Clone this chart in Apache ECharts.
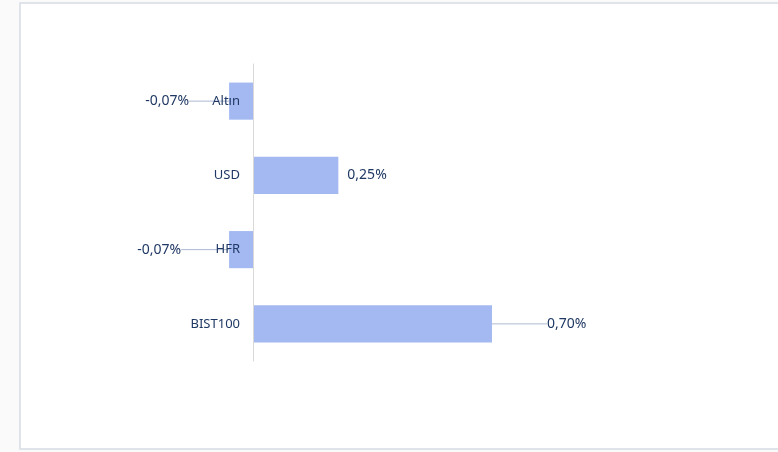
<!DOCTYPE html>
<html>
<head>
<meta charset="utf-8">
<script src="https://cdn.jsdelivr.net/npm/echarts@6/dist/echarts.min.js"></script>
<style>
  html, body { margin: 0; padding: 0; background: #fafafa; }
  #chart { width: 778px; height: 452px; }
</style>
</head>
<body>
<div id="chart"></div>
<script>
// Daily returns, top to bottom as drawn
const categories = ['Altın', 'USD', 'HFR', 'BIST100'];
const returns = [-0.07, 0.25, -0.07, 0.70];

const fmt = (v) => v.toFixed(2).replace('.', ',') + '%';
// how far each value label is pushed away from its bar end (leader line)
const labelShift = [-35, 0, -43, 50];

const chart = echarts.init(document.getElementById('chart'), null, { renderer: 'canvas' });
chart.setOption({
  animation: false,
  textStyle: { fontFamily: 'Noto Sans', color: '#1f3864' },
  graphic: [{
    type: 'rect', z: -10, silent: true,
    shape: { x: 20, y: 3, width: 760, height: 446 },
    style: { fill: '#ffffff', stroke: '#dfe3ea', lineWidth: 2 }
  }],
  grid: { left: 253, right: 183.6, top: 64, bottom: 91 },
  xAxis: { type: 'value', min: 0, max: 1.0, show: false },
  yAxis: {
    type: 'category', data: categories, inverse: true,
    axisLine: { lineStyle: { color: '#d9d9d9', width: 1 } },
    axisTick: { show: false },
    axisLabel: { margin: 13, fontSize: 13, color: '#1f3864', fontFamily: 'Noto Sans' },
    z: 5
  },
  series: [{
    type: 'bar',
    clip: false,
    barWidth: '50%',
    itemStyle: { color: '#a4b9f2' },
    z: 2,
    data: returns.map((v, i) => ({
      value: v,
      label: { position: v < 0 ? 'left' : 'right', distance: labelShift[i] === 0 ? 9 : 5 },
      labelLine: { show: labelShift[i] !== 0 }
    })),
    label: {
      show: true,
      formatter: (p) => fmt(p.value),
      fontSize: 14, color: '#1f3864', fontFamily: 'Noto Sans'
    },
    labelLine: { show: true, lineStyle: { color: '#adbad3', width: 1 } },
    labelLayout: (p) => ({ dx: labelShift[p.dataIndex] })
  }]
});
</script>
</body>
</html>
